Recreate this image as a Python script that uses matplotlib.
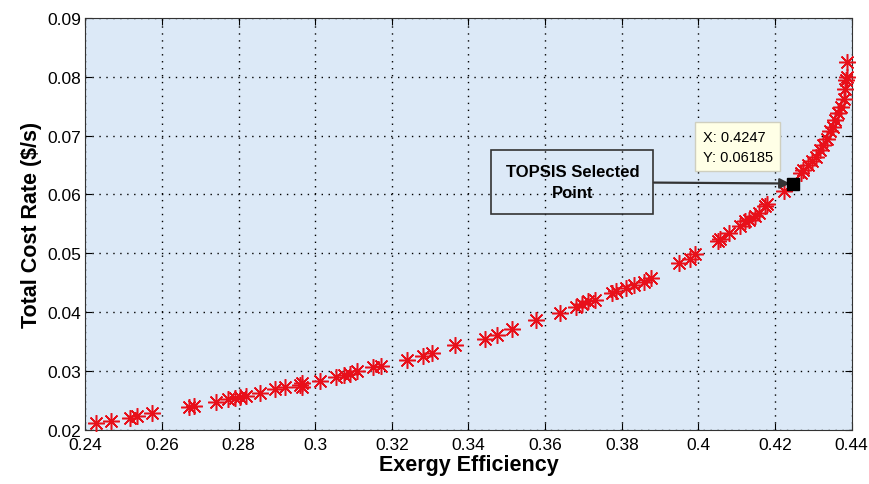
import matplotlib
matplotlib.use('Agg')
import matplotlib.pyplot as plt
import numpy as np

plt.rcParams['font.family'] = ['Liberation Sans', 'DejaVu Sans']

# Pareto front points
exergy_eff = [0.2429, 0.2467, 0.2516, 0.2535, 0.2575, 0.2672, 0.2685, 0.2740,
              0.2773, 0.2791, 0.2805, 0.2820, 0.2856, 0.2895, 0.2921, 0.2960,
              0.2965, 0.2965, 0.3012, 0.3054, 0.3076, 0.3090, 0.3109, 0.3150,
              0.3171, 0.3239, 0.3280, 0.3304, 0.3365, 0.3442, 0.3474, 0.3514,
              0.3577, 0.3640, 0.3681, 0.3695, 0.3713, 0.3731, 0.3775, 0.3786,
              0.3811, 0.3833, 0.3857, 0.3876, 0.3949, 0.3977, 0.3992, 0.4050,
              0.4057, 0.4079, 0.4108, 0.4122, 0.4133, 0.4147, 0.4158, 0.4173,
              0.4180, 0.4223, 0.4267, 0.4274, 0.4286, 0.4296, 0.4306, 0.4318,
              0.4325, 0.4335, 0.4342, 0.4350, 0.4357, 0.4364, 0.4371, 0.4379,
              0.4383, 0.4386, 0.4387, 0.4388]
cost_rate = [0.0211, 0.0215, 0.0220, 0.0223, 0.0228, 0.0239, 0.0241, 0.0247,
             0.0252, 0.0254, 0.0255, 0.0258, 0.0262, 0.0269, 0.0272, 0.0276,
             0.0280, 0.0273, 0.0283, 0.0290, 0.0293, 0.0295, 0.0300, 0.0306,
             0.0309, 0.0319, 0.0325, 0.0330, 0.0344, 0.0354, 0.0361, 0.0372,
             0.0386, 0.0399, 0.0409, 0.0413, 0.0418, 0.0421, 0.0433, 0.0436,
             0.0441, 0.0446, 0.0451, 0.0458, 0.0484, 0.0491, 0.0498, 0.0521,
             0.0525, 0.0534, 0.0546, 0.0554, 0.0557, 0.0564, 0.0568, 0.0580,
             0.0584, 0.0605, 0.0636, 0.0642, 0.0650, 0.0656, 0.0664, 0.0676,
             0.0684, 0.0695, 0.0707, 0.0715, 0.0727, 0.0738, 0.0749, 0.0763,
             0.0780, 0.0794, 0.0800, 0.0825]

sel_x = 0.4247
sel_y = 0.06185

fig = plt.figure(figsize=(8.7, 4.85), dpi=100)
ax = fig.add_axes([0.098, 0.112, 0.881, 0.849])
ax.set_facecolor('#dce9f7')

ax.plot(exergy_eff, cost_rate, linestyle='none', marker=(8, 2, 0),
        markersize=12, color='#e8101a', mew=1.1, clip_on=False, zorder=3)
ax.plot([sel_x], [sel_y], linestyle='none', marker='s', markersize=8,
        color='black', zorder=5)

ax.set_xlim(0.24, 0.44)
ax.set_ylim(0.02, 0.09)
xt = np.arange(0.24, 0.4401, 0.02)
yt = np.arange(0.02, 0.0901, 0.01)
ax.set_xticks(xt)
ax.set_xticklabels(['%g' % round(v, 2) for v in xt])
ax.set_yticks(yt)
ax.set_yticklabels(['%g' % round(v, 2) for v in yt])
ax.tick_params(direction='in', top=True, right=True, length=5,
               labelsize=12.5)
ax.tick_params(axis='x', pad=5)
ax.tick_params(axis='y', pad=3)
ax.grid(True, linestyle=(0, (1, 4)), color='black', linewidth=1.0)
for s in ax.spines.values():
    s.set_color('#333333')

ax.set_xlabel('Exergy Efficiency', fontsize=15.5, fontweight='bold', labelpad=2)
ax.set_ylabel('Total Cost Rate (\\$/s)', fontsize=15.5, fontweight='bold', labelpad=4)

# TOPSIS label with arrow
ax.annotate('TOPSIS Selected\nPoint', xy=(sel_x - 0.0008, sel_y),
            xytext=(0.3671, 0.0621), ha='center', va='center',
            fontsize=12, fontweight='bold', linespacing=1.45,
            bbox=dict(boxstyle='square,pad=0.85', fc='none', ec='#333333', lw=1.2),
            arrowprops=dict(arrowstyle='-|>', color='#333333', lw=1.6,
                            mutation_scale=15, shrinkA=0, shrinkB=0),
            zorder=4)

# data tip
ax.text(0.4011, 0.0710, 'X: 0.4247\nY: 0.06185', fontsize=10.5, ha='left',
        va='top', linespacing=1.55,
        bbox=dict(boxstyle='square,pad=0.5', fc='#ffffe6', ec='#cfcfbf', lw=1),
        zorder=6)

fig.savefig('out.png', dpi=100)
